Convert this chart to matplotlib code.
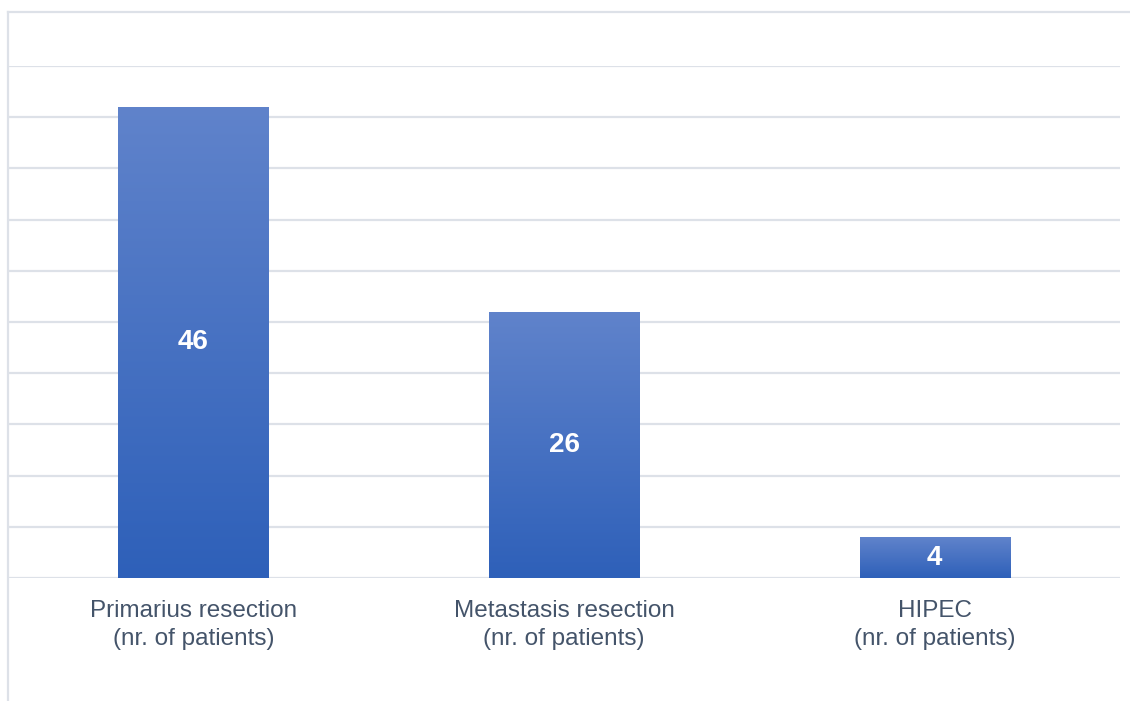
import numpy as np
import matplotlib
matplotlib.use("Agg")
import matplotlib.pyplot as plt
from matplotlib.colors import LinearSegmentedColormap
from matplotlib.lines import Line2D

categories = ["Primarius resection\n(nr. of patients)",
              "Metastasis resection\n(nr. of patients)",
              "HIPEC\n(nr. of patients)"]
values = [46, 26, 4]

plt.rcParams["font.family"] = ["Liberation Sans", "DejaVu Sans"]

W, H = 1130, 701
fig = plt.figure(figsize=(W / 100, H / 100), dpi=100)
fig.patch.set_facecolor("white")

# axes box in pixel coordinates
x0, x1 = 8, 1120
y_top, y_bot = 66, 578
ax = fig.add_axes([x0 / W, 1 - y_bot / H, (x1 - x0) / W, (y_bot - y_top) / H])

grid_color = "#DDE1E8"
text_color = "#44546A"

ax.set_xlim(-0.5, len(values) - 0.5)
ax.set_ylim(0, 50)
ax.set_yticks(np.arange(0, 51, 5))
ax.yaxis.grid(True, color=grid_color, linewidth=1.6)
ax.set_axisbelow(True)
ax.tick_params(axis="y", left=False, labelleft=False)
ax.tick_params(axis="x", bottom=False, pad=12)
for s in ax.spines.values():
    s.set_visible(False)

ax.set_xticks(range(len(values)))
ax.set_xticklabels(categories, fontsize=17.5, color=text_color, linespacing=1.38)

cmap = LinearSegmentedColormap.from_list("bar", ["#2E60B9", "#6083CB"])
grad = np.linspace(0, 1, 256).reshape(-1, 1)
width = 0.405
bars = ax.bar(range(len(values)), values, width=width, color="none", edgecolor="none")
for bar, v in zip(bars, values):
    bx, bw = bar.get_x(), bar.get_width()
    im = ax.imshow(grad, extent=[bx, bx + bw, 0, v], origin="lower",
                   cmap=cmap, aspect="auto", zorder=2, interpolation="bicubic")
    im.set_clip_path(bar)
    ax.text(bx + bw / 2, v / 2, str(v), ha="center", va="center",
            color="white", fontsize=20, fontweight="bold", zorder=3)
ax.set_xlim(-0.5, len(values) - 0.5)
ax.set_ylim(0, 50)

# chart frame: top and left edges
fig.add_artist(Line2D([x0 / W, 1.0], [1 - 12 / H, 1 - 12 / H],
                      transform=fig.transFigure, color=grid_color, linewidth=1.6))
fig.add_artist(Line2D([x0 / W, x0 / W], [1 - 12 / H, 0.0],
                      transform=fig.transFigure, color=grid_color, linewidth=1.6))

fig.savefig("out.png", dpi=100)
